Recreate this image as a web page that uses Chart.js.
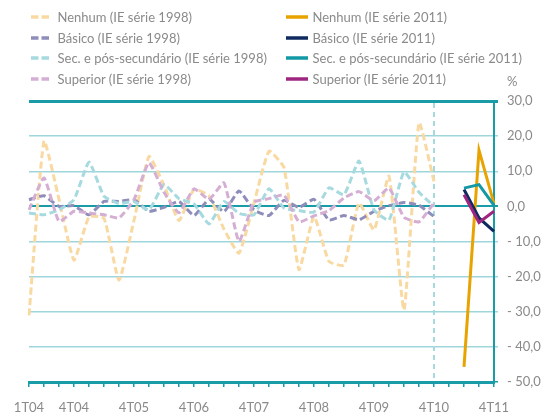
<!DOCTYPE html>
<html><head><meta charset="utf-8">
<script src="https://cdn.jsdelivr.net/npm/chart.js@4.4.0/dist/chart.umd.min.js"></script>
<style>
html,body{margin:0;padding:0;background:#fff;}
#wrap{position:relative;width:546px;height:418px;overflow:hidden;}
#c{position:absolute;left:0;top:0;}
.leg{position:absolute;font-family:Lato,"Open Sans",sans-serif;font-size:13px;color:#8a8a8a;white-space:nowrap;line-height:16px;height:16px;}
.leg svg{position:absolute;top:0;}
.leg span{position:absolute;top:0;}
#pct{position:absolute;left:507px;top:73px;font-family:Lato,sans-serif;font-size:13px;color:#8a8a8a;line-height:16px;}
</style></head><body>
<div id="wrap"><canvas id="c" width="546" height="418"></canvas><div id="legend"></div><div id="pct">%</div></div>
<script>
const categories = ['1T04','2T04','3T04','4T04','1T05','2T05','3T05','4T05','1T06','2T06','3T06','4T06',
  '1T07','2T07','3T07','4T07','1T08','2T08','3T08','4T08','1T09','2T09','3T09','4T09',
  '1T10','2T10','3T10','4T10','1T11','2T11','3T11','4T11'];
const shownTicks = ['1T04','4T04','4T05','4T06','4T07','4T08','4T09','4T10','4T11'];
const markerCategory = '4T10';
const yTicks = [30, 20, 10, 0, -10, -20, -30, -40, -50];

// IE série 1998 (1T04 .. 4T10)
const nenhum1998 = [-31, 18.6, 2, -15.3, -3, -3.4, -21, -4, 14.2, 6, -4, 4.8, 3, -6.5, -13.3, 1, 15.7, 11, -18, -2.9, -15.7, -16.7, 1, -6.7, 8.6, -29.5, 23.8, 7.1];
const basico1998 = [1.9, 3, 0, 0.2, -2.4, 1.4, 1.4, 1.9, -1.4, -0.3, 1.4, -2.6, 2, -1.5, 4.4, -1, -2.6, 1.7, -0.3, 2, -3.9, -2.6, -3.8, -1.4, 0.2, 1.1, 0.3, -2.9];
const sec1998 = [-1.9, -2.4, -1, 1.9, 12.6, 2.9, 0.8, 1.4, -1, 6.2, 2.2, 0.7, -5, 1.4, -2, -2.4, 5, -0.5, -1.2, -1.6, 5.3, 3.3, 12.9, -1, -3.9, 9.8, 4, 0];
const superior1998 = [-1, 8.1, -4.3, -1.4, -1.9, -2.4, -3.3, 1.9, 12.4, 4, -1.8, 5, 2, 6.7, -10, 1.2, 2.2, 3.2, -4.4, -2.7, -1.2, 2.4, 4.2, 1.6, 5.2, -3.1, -4.4, 1];

// IE série 2011 (2T11 .. 4T11)
const start2011 = '2T11';
const nenhum2011 = [-45.7, 16, 0.8];
const basico2011 = [4.8, -3.3, -7.1];
const sec2011 = [5.2, 6.2, 0.3];
const superior2011 = [3.3, -4.6, -1.4];

const labels1998 = ['Nenhum (IE série 1998)','Básico (IE série 1998)','Sec. e pós-secundário (IE série 1998)','Superior (IE série 1998)'];
const labels2011 = ['Nenhum (IE série 2011)','Básico (IE série 2011)','Sec. e pós-secundário (IE série 2011)','Superior (IE série 2011)'];
const colors1998 = ['#F9D9A2','#8F8DBA','#A6DADF','#D5AED3'];
const colors2011 = ['#E8A300','#0E2A5E','#1399A6','#9E2680'];

function place(values, startCat){
  const s = categories.indexOf(startCat);
  const out = new Array(categories.length).fill(null);
  values.forEach((v,i)=>{ out[s+i] = v; });
  return out;
}
const vals1998 = [nenhum1998, basico1998, sec1998, superior1998];
const vals2011 = [nenhum2011, basico2011, sec2011, superior2011];

const datasets = [];
vals1998.forEach((v,i)=>datasets.push({label:labels1998[i], data:place(v,'1T04'), borderColor:colors1998[i],
  borderWidth:3, borderDash:[7,3.5], pointRadius:0, tension:0.15, fill:false, spanGaps:false, order:10-i}));
vals2011.forEach((v,i)=>datasets.push({label:labels2011[i], data:place(v,start2011), borderColor:colors2011[i],
  borderWidth:3, pointRadius:0, tension:0, fill:false, spanGaps:false, order:4-i}));

const TEAL = '#1A9CA8', LIGHT = '#9ED6DB';

const markerPlugin = {
  id:'marker',
  beforeDatasetsDraw(chart){
    const {ctx, chartArea, scales:{x}} = chart;
    const px = x.getPixelForValue(categories.indexOf(markerCategory));
    ctx.save(); ctx.strokeStyle = '#A6DADF'; ctx.lineWidth = 2; ctx.setLineDash([5,4]);
    ctx.beginPath(); ctx.moveTo(px, chartArea.top+2); ctx.lineTo(px, chartArea.bottom); ctx.stroke(); ctx.restore();
  }
};

Chart.defaults.font.family = 'Lato, "Open Sans", sans-serif';
Chart.defaults.font.size = 13;
Chart.defaults.color = '#8a8a8a';

new Chart(document.getElementById('c'), {
  type:'line',
  data:{labels:categories, datasets},
  plugins:[markerPlugin],
  options:{
    responsive:false, animation:false,
    layout:{padding:{top:101, left:29, right:0, bottom:0}},
    plugins:{legend:{display:false}, tooltip:{enabled:false}},
    scales:{
      x:{
        offset:false,
        grid:{drawOnChartArea:false, drawTicks:true, tickLength:5, color:TEAL, lineWidth:1.5},
        border:{display:true, color:TEAL, width:3},
        ticks:{autoSkip:false, maxRotation:0, padding:13, color:'#8a8a8a',
          callback:(v,i)=> shownTicks.includes(categories[i]) ? categories[i] : ''},
        afterFit(s){ s.height = 36; }
      },
      y:{
        position:'right', min:-50, max:30,
        afterBuildTicks(s){ s.ticks = yTicks.map(v=>({value:v})); },
        grid:{drawOnChartArea:true, drawTicks:true, tickLength:4,
          color:c=> (c.tick && (c.tick.value===30 || c.tick.value===0 || c.tick.value===-50)) ? TEAL : LIGHT,
          lineWidth:c=> c.tick ? (c.tick.value===30 ? 3 : (c.tick.value===0 ? 2 : 1.5)) : 1.5},
        border:{display:true, color:TEAL, width:2},
        ticks:{padding:9, color:'#8a8a8a', callback:v=> (v<0?'- ':'') + Math.abs(v).toFixed(1).replace('.',',')},
        afterFit(s){ s.width = 52; }
      }
    }
  }
});

// HTML legend
const legend = document.getElementById('legend');
const rowTops = [9, 29.5, 50, 70.5];
function addItem(label, color, dashed, colLine, lineW, colText, top){
  const d = document.createElement('div');
  d.className = 'leg'; d.style.left = '0px'; d.style.top = top + 'px'; d.style.width='546px';
  const dash = dashed ? 'stroke-dasharray="7.5 3"' : '';
  d.innerHTML = '<svg width="546" height="16" style="left:0"><line x1="'+colLine+'" y1="8" x2="'+(colLine+lineW)+'" y2="8" stroke="'+color+'" stroke-width="3.5" '+dash+'/></svg>'
    + '<span style="left:'+colText+'px"></span>';
  d.querySelector('span').textContent = label;
  legend.appendChild(d);
}
labels1998.forEach((l,i)=>addItem(l, colors1998[i], true, 31, 18, 57.5, rowTops[i]));
labels2011.forEach((l,i)=>addItem(l, colors2011[i], false, 286, 22, 312.5, rowTops[i]));
</script>
</body></html>
